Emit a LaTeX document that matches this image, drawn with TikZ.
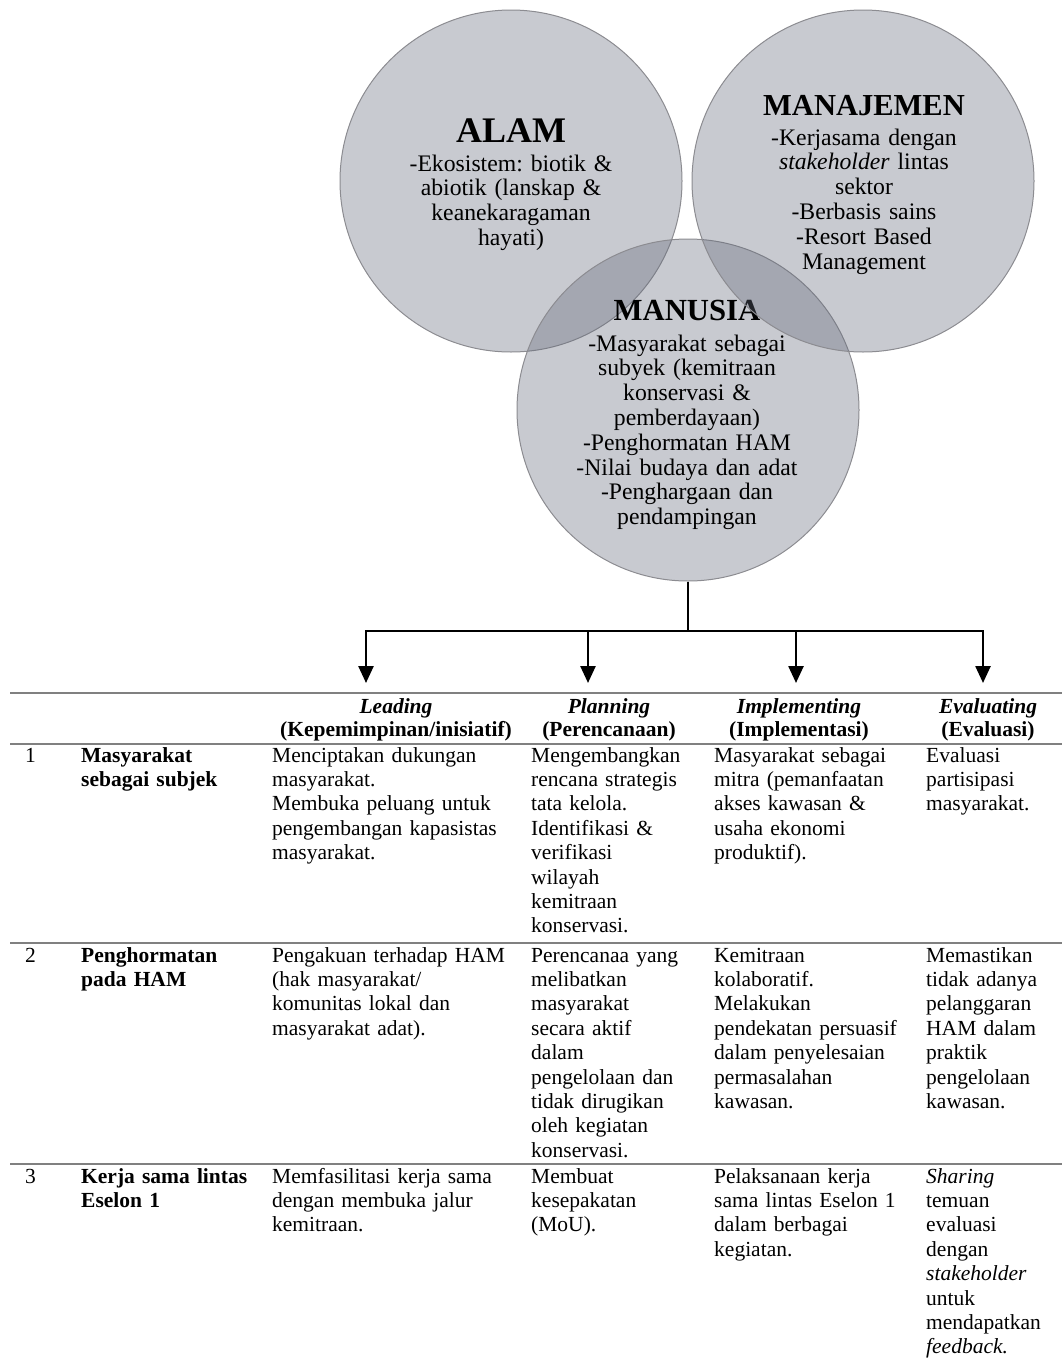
\documentclass[tikz,border=0pt]{standalone}
\usepackage{fontspec}
\setmainfont{Liberation Serif}
\frenchspacing
\usetikzlibrary{arrows.meta}
\definecolor{circfill}{RGB}{98,104,121}
\definecolor{circedge}{RGB}{140,140,145}
\definecolor{rulegray}{RGB}{128,128,128}
\begin{document}
\begin{tikzpicture}[x=1pt,y=1pt,
  bubble/.style={circle, draw=circedge, line width=1pt, fill=circfill, fill opacity=0.35, minimum size=342pt, inner sep=0pt},
  ctitle/.style={anchor=base, inner sep=0pt, font=\fontsize{#1}{#1}\selectfont\bfseries},
  cbody/.style={anchor=base, inner sep=0pt, text width=330pt, align=center, font=\fontsize{23.7}{24.8}\selectfont\frenchspacing},
  conn/.style={line width=2.5pt, black},
  arr/.style={conn, -{Triangle[width=15pt,length=17pt]}},
  tabrule/.style={line width=2.2pt, rulegray},
  cell/.style={anchor=base west, inner sep=0pt, text width=300pt, align=left, font=\fontsize{21.5}{24.4}\selectfont\frenchspacing},
  kcell/.style={cell, font=\fontsize{21.5}{24.4}\selectfont\bfseries},
  hcell/.style={anchor=base, inner sep=0pt, text width=300pt, align=center, font=\fontsize{21.5}{23}\selectfont\bfseries}
]
\fill[white] (0,0) rectangle (1062,-1360);
\path[use as bounding box] (0,0) rectangle (1062,-1360);

% circles
\node[bubble] (alam) at (511,-181) {};
\node[ctitle=36] (alamT) at (511,-142) {ALAM};
\node[cbody] (alamB) at (511,-171) {-Ekosistem: biotik \&\\abiotik (lanskap \&\\keanekaragaman\\hayati)};

\node[bubble] (manus) at (688,-410) {};
\node[ctitle=30.7] (manusT) at (687,-320) {MANUSIA};
\node[cbody] (manusB) at (687,-351) {-Masyarakat sebagai\\subyek (kemitraan\\konservasi \&\\pemberdayaan)\\-Penghormatan HAM\\-Nilai budaya dan adat\\-Penghargaan dan\\pendampingan};

\node[bubble] (manaj) at (863,-181) {};
\node[ctitle=30.5] (manajT) at (864,-115) {MANAJEMEN};
\node[cbody] (manajB) at (864,-145) {-Kerjasama dengan\\\textit{stakeholder} lintas\\sektor\\-Berbasis sains\\-Resort Based\\Management};

% connectors
\coordinate (hub) at (688,-631);
\coordinate (b1) at (366,-631);
\coordinate (b2) at (588,-631);
\coordinate (b3) at (796,-631);
\coordinate (b4) at (983,-631);
\coordinate (t1) at (366,-683);
\coordinate (t2) at (588,-683);
\coordinate (t3) at (796,-683);
\coordinate (t4) at (983,-683);
\draw[conn] (manus.south) -- (hub);
\draw[conn, line cap=rect] (b1) -- (b4);
\draw[arr] (b1) -- (t1);
\draw[arr] (b2) -- (t2);
\draw[arr] (b3) -- (t3);
\draw[arr] (b4) -- (t4);

% table rules
\coordinate (r0l) at (10,-693);  \coordinate (r0r) at (1062,-693);
\coordinate (r1l) at (10,-744);  \coordinate (r1r) at (1062,-744);
\coordinate (r2l) at (10,-943);  \coordinate (r2r) at (1062,-943);
\coordinate (r3l) at (10,-1164); \coordinate (r3r) at (1062,-1164);
\draw[tabrule] (r0l) -- (r0r);
\draw[tabrule] (r1l) -- (r1r);
\draw[tabrule] (r2l) -- (r2r);
\draw[tabrule] (r3l) -- (r3r);

% header
\node[hcell] (hL) at (396,-713) {\textit{Leading}\\(Kepemimpinan/inisiatif)};
\node[hcell] (hP) at (609,-713) {\textit{Planning}\\(Perencanaan)};
\node[hcell] (hI) at (799,-713) {\textit{Implementing}\\(Implementasi)};
\node[hcell] (hE) at (988,-713) {\textit{Evaluating}\\(Evaluasi)};

% row 1
\node[cell] (n1) at (25,-762) {1};
\node[kcell] (k1) at (81,-762) {Masyarakat\\sebagai subjek};
\node[cell] (l1) at (272,-762) {Menciptakan dukungan\\masyarakat.\\Membuka peluang untuk\\pengembangan kapasistas\\masyarakat.};
\node[cell] (p1) at (531,-762) {Mengembangkan\\rencana strategis\\tata kelola.\\Identifikasi \&\\verifikasi\\wilayah\\kemitraan\\konservasi.};
\node[cell] (i1) at (714,-762) {Masyarakat sebagai\\mitra (pemanfaatan\\akses kawasan \&\\usaha ekonomi\\produktif).};
\node[cell] (e1) at (926,-762) {Evaluasi\\partisipasi\\masyarakat.};

% row 2
\node[cell] (n2) at (25,-962) {2};
\node[kcell] (k2) at (81,-962) {Penghormatan\\pada HAM};
\node[cell] (l2) at (272,-962) {Pengakuan terhadap HAM\\(hak masyarakat/\\komunitas lokal dan\\masyarakat adat).};
\node[cell] (p2) at (531,-962) {Perencanaa yang\\melibatkan\\masyarakat\\secara aktif\\dalam\\pengelolaan dan\\tidak dirugikan\\oleh kegiatan\\konservasi.};
\node[cell] (i2) at (714,-962) {Kemitraan\\kolaboratif.\\Melakukan\\pendekatan persuasif\\dalam penyelesaian\\permasalahan\\kawasan.};
\node[cell] (e2) at (926,-962) {Memastikan\\tidak adanya\\pelanggaran\\HAM dalam\\praktik\\pengelolaan\\kawasan.};

% row 3
\node[cell] (n3) at (25,-1183) {3};
\node[kcell] (k3) at (81,-1183) {Kerja sama lintas\\Eselon 1};
\node[cell] (l3) at (272,-1183) {Memfasilitasi kerja sama\\dengan membuka jalur\\kemitraan.};
\node[cell] (p3) at (531,-1183) {Membuat\\kesepakatan\\(MoU).};
\node[cell] (i3) at (714,-1183) {Pelaksanaan kerja\\sama lintas Eselon 1\\dalam berbagai\\kegiatan.};
\node[cell] (e3) at (926,-1183) {\textit{Sharing}\\temuan\\evaluasi\\dengan\\\textit{stakeholder}\\untuk\\mendapatkan\\\textit{feedback.}};
\end{tikzpicture}
\end{document}
